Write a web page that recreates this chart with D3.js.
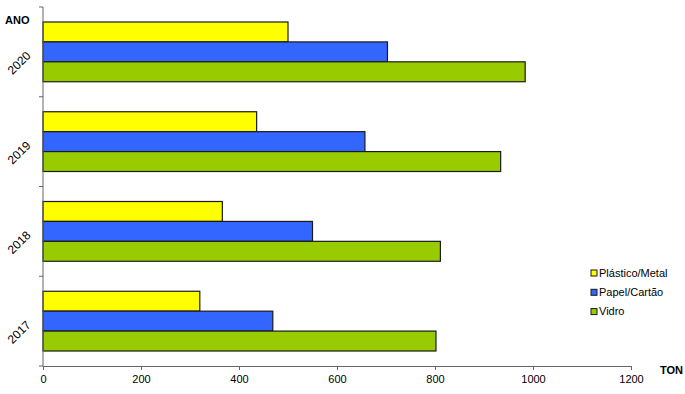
<!DOCTYPE html>
<html><head><meta charset="utf-8">
<script src="https://cdn.jsdelivr.net/npm/d3@7"></script>
<style>body{margin:0;background:#fff}svg{display:block}text{font-family:"Liberation Sans",Arial,sans-serif}</style>
</head><body><svg id="c" width="685" height="394"></svg>
<script>
const years = ["2020","2019","2018","2017"];
const seriesNames = ["Plástico/Metal","Papel/Cartão","Vidro"];
const plastico = [500, 436, 366, 320];
const papel = [703, 657, 550, 469];
const vidro = [984, 934, 811, 802];
const xTicks = [0,200,400,600,800,1000,1200];
const colors = ["#ffff00","#3366ff","#99cc00"];
const values = [plastico, papel, vidro];

const svg = d3.select("#c");
const x = d3.scaleLinear().domain([0,1200]).range([43,631]);
const y = d3.scaleBand().domain(years).range([7,366]).paddingInner(0).paddingOuter(0);
const inner = d3.scaleBand().domain(seriesNames).range([15, y.bandwidth()-15]);

// bars
seriesNames.forEach((s,si)=>{
  svg.append("g").selectAll("rect").data(years).join("rect")
    .attr("x", x(0))
    .attr("y", d=>y(d)+inner(s))
    .attr("width", (d,i)=>x(values[si][i])-x(0))
    .attr("height", inner.bandwidth())
    .attr("fill", colors[si])
    .attr("stroke", "#1a1a1a").attr("stroke-width", 1.2);
});

// x axis
const xAxis = d3.axisBottom(x).tickValues(xTicks).tickSize(4).tickPadding(5).tickFormat(d3.format("d"));
const gx = svg.append("g").attr("transform","translate(0,366)").call(xAxis);
gx.select(".domain").attr("stroke","#666");
gx.selectAll(".tick line").attr("stroke","#666");
gx.selectAll("text").attr("font-size","11px").attr("fill","#000").attr("font-family","'Liberation Sans',Arial,sans-serif");

// y axis
svg.append("line").attr("x1",43).attr("x2",43).attr("y1",7).attr("y2",367).attr("stroke","#666");
const bounds = years.map(d=>y(d)).concat([y.range()[1]]);
svg.append("g").selectAll("line").data(bounds).join("line")
  .attr("x1",39).attr("x2",43).attr("y1",d=>d).attr("y2",d=>d).attr("stroke","#666");

svg.append("g").selectAll("text").data(years).join("text")
  .attr("transform", d=>`translate(19,${y(d)+y.bandwidth()/2+11}) rotate(-45)`)
  .attr("text-anchor","middle").attr("dy","0.35em")
  .attr("font-size","12px").text(d=>d);

// axis titles
svg.append("text").attr("x",5).attr("y",24).attr("font-size","11px").attr("font-weight","bold").text("ANO");
svg.append("text").attr("x",660).attr("y",374).attr("font-size","11px").attr("font-weight","bold").text("TON");

// legend
const lg = svg.append("g").selectAll("g").data(seriesNames).join("g")
  .attr("transform",(d,i)=>`translate(591,${273+i*19.3})`);
lg.append("rect").attr("x",0).attr("y",-3).attr("width",6).attr("height",6)
  .attr("fill",(d,i)=>colors[i]).attr("stroke","#1a1a1a").attr("stroke-width",1);
lg.append("text").attr("x",8).attr("dy","0.35em").attr("font-size","11px").text(d=>d);
</script></body></html>
